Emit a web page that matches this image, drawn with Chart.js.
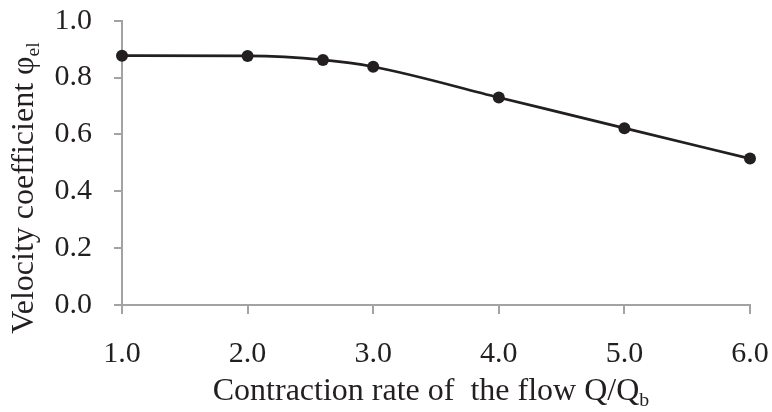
<!DOCTYPE html>
<html>
<head>
<meta charset="utf-8">
<script src="https://cdn.jsdelivr.net/npm/chart.js@4/dist/chart.umd.min.js"></script>
<style>
  html, body { margin: 0; padding: 0; background: #ffffff; }
  #wrap { width: 772px; height: 412px; }
</style>
</head>
<body>
<div id="wrap"><canvas id="c" width="772" height="412"></canvas></div>
<script>
// ---- data ----
const contractionRate = [1.0, 2.0, 2.6, 3.0, 4.0, 5.0, 6.0];
const velocityCoef    = [0.877, 0.876, 0.862, 0.838, 0.730, 0.622, 0.515];
const xTickValues = [1.0, 2.0, 3.0, 4.0, 5.0, 6.0];
const yTickValues = [0.0, 0.2, 0.4, 0.6, 0.8, 1.0];
const xTitleMain = 'Contraction rate of  the flow Q/Q';
const xTitleSub  = 'b';
const yTitleMain = 'Velocity coefficient \u03C6';
const yTitleSub  = 'el';

const FONT = '"Liberation Serif", "Times New Roman", serif';
const INK = '#231f20';
const AXIS = '#a3a3a3';

function drawSubText(ctx, main, sub, cx, baseY, size) {
  const subSize = size * 0.62;
  ctx.font = size + 'px ' + FONT;
  const wMain = ctx.measureText(main).width;
  ctx.font = subSize + 'px ' + FONT;
  const wSub = ctx.measureText(sub).width;
  const x0 = cx - (wMain + wSub) / 2;
  ctx.textAlign = 'left';
  ctx.textBaseline = 'alphabetic';
  ctx.font = size + 'px ' + FONT;
  ctx.fillText(main, x0, baseY);
  ctx.font = subSize + 'px ' + FONT;
  ctx.fillText(sub, x0 + wMain, baseY + size * 0.2);
}

const titlesPlugin = {
  id: 'axisTitles',
  afterDraw(chart) {
    const ctx = chart.ctx;
    const area = chart.chartArea;
    ctx.save();
    ctx.fillStyle = INK;
    // x-axis title
    drawSubText(ctx, xTitleMain, xTitleSub, (area.left + area.right) / 2 - 5, 400, 32);
    // y-axis title (rotated)
    ctx.translate(33, 188);
    ctx.rotate(-Math.PI / 2);
    drawSubText(ctx, yTitleMain, yTitleSub, 0, 0, 32);
    ctx.restore();
  }
};

new Chart(document.getElementById('c'), {
  type: 'line',
  data: {
    datasets: [{
      data: contractionRate.map((x, i) => ({ x: x, y: velocityCoef[i] })),
      borderColor: INK,
      backgroundColor: INK,
      borderWidth: 2.75,
      pointRadius: 6,
      pointHoverRadius: 6,
      pointBackgroundColor: INK,
      pointBorderWidth: 0,
      cubicInterpolationMode: 'monotone',
      fill: false,
      clip: false
    }]
  },
  options: {
    responsive: false,
    animation: false,
    devicePixelRatio: 1,
    layout: { padding: { left: 0, right: 22, top: 20.7, bottom: 0 } },
    plugins: {
      legend: { display: false },
      tooltip: { enabled: false },
      title: { display: false }
    },
    scales: {
      x: {
        type: 'linear',
        min: 1, max: 6,
        afterFit(scale) {
          scale.height = 107;
          scale.paddingLeft = 0; scale.paddingRight = 0;
        },
        afterBuildTicks(scale) { scale.ticks = xTickValues.map(v => ({ value: v })); },
        ticks: {
          callback: v => Number(v).toFixed(1),
          color: INK,
          font: { family: FONT, size: 30 },
          padding: 22,
          maxRotation: 0,
          autoSkip: false
        },
        grid: {
          display: true,
          drawOnChartArea: false,
          drawTicks: true,
          tickLength: 9,
          color: AXIS,
          lineWidth: 2
        },
        border: { display: true, color: AXIS, width: 2 }
      },
      y: {
        type: 'linear',
        min: 0, max: 1,
        afterFit(scale) {
          scale.width = 122;
          scale.paddingTop = 0; scale.paddingBottom = 0;
        },
        afterBuildTicks(scale) { scale.ticks = yTickValues.map(v => ({ value: v })); },
        ticks: {
          callback: v => Number(v).toFixed(1),
          color: INK,
          font: { family: FONT, size: 30 },
          padding: 22,
          autoSkip: false
        },
        grid: {
          display: true,
          drawOnChartArea: false,
          drawTicks: true,
          tickLength: 8,
          color: AXIS,
          lineWidth: 2
        },
        border: { display: true, color: AXIS, width: 2 }
      }
    }
  },
  plugins: [titlesPlugin]
});
</script>
</body>
</html>
